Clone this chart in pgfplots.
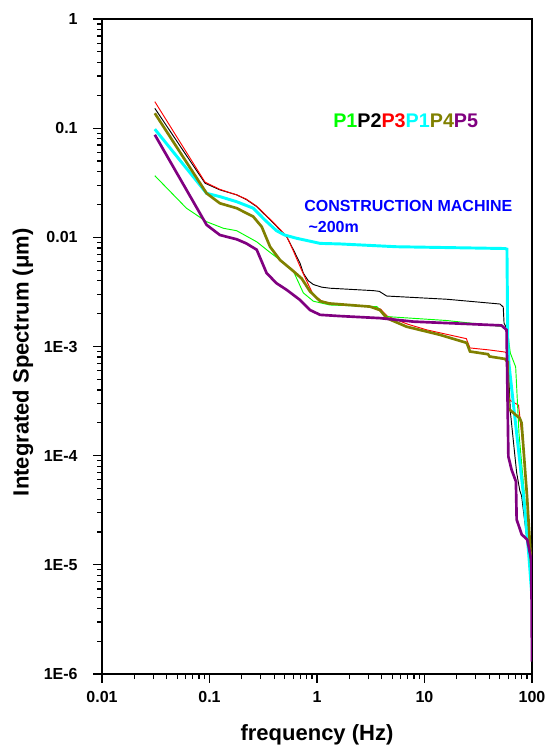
\documentclass[border=0pt]{standalone}
\usepackage{fontspec}
\setmainfont{Liberation Sans}
\usepackage{pgfplots}
\pgfplotsset{compat=1.18}
\definecolor{pgreen}{RGB}{0,255,0}
\definecolor{pcyan}{RGB}{0,255,255}
\definecolor{polive}{RGB}{128,128,0}
\definecolor{ppurple}{RGB}{128,0,128}
\definecolor{pblue}{RGB}{0,0,255}
\definecolor{pred}{RGB}{255,0,0}
\begin{document}
\begin{tikzpicture}
\useasboundingbox (-76.5pt,-54pt) rectangle (343.5pt,505.5pt);
\begin{axis}[
 at={(0,0)}, anchor=south west, scale only axis,
 width=322.5pt, height=491.25pt,
 xmode=log, ymode=log,
 xmin=0.01, xmax=100, ymin=1e-6, ymax=1,
 xtick={0.01,0.1,1,10,100}, xticklabels={0.01,0.1,1,10,100},
 ytick={1e-6,1e-5,1e-4,1e-3,0.01,0.1,1}, yticklabels={1E-6,1E-5,1E-4,1E-3,0.01,0.1,1},
 minor xtick={0.02,0.03,0.04,0.05,0.06,0.07,0.08,0.09,0.2,0.3,0.4,0.5,0.6,0.7,0.8,0.9,2,3,4,5,6,7,8,9,20,30,40,50,60,70,80,90},
 minor ytick={2e-6,3e-6,4e-6,5e-6,6e-6,7e-6,8e-6,9e-6,2e-5,3e-5,4e-5,5e-5,6e-5,7e-5,8e-5,9e-5,2e-4,3e-4,4e-4,5e-4,6e-4,7e-4,8e-4,9e-4,2e-3,3e-3,4e-3,5e-3,6e-3,7e-3,8e-3,9e-3,0.02,0.03,0.04,0.05,0.06,0.07,0.08,0.09,0.2,0.3,0.4,0.5,0.6,0.7,0.8,0.9},
 tick pos=left, tick align=outside,
 major tick length=6.75pt, minor tick length=3.75pt,
 every tick/.style={black, line width=0.9pt},
 axis line style={line width=1.1pt},
 ticklabel style={font=\fontsize{12}{14}\selectfont\bfseries},
 yticklabel style={xshift=-8pt},
 xticklabel style={yshift=-3pt},
 xlabel={frequency (Hz)}, ylabel={Integrated Spectrum (μm)},
 label style={font=\fontsize{16.5}{18}\selectfont\bfseries},
 xlabel style={at={(axis description cs:0.5,-0.093)}, anchor=center},
 ylabel style={at={(axis description cs:-0.184,0.476)}, anchor=center},
 clip=true,
]
% P2 black
\addplot[black, line width=0.7pt] coordinates {
(0.031,0.152) (0.091,0.0313) (0.125,0.0272) (0.179,0.0245) (0.22,0.0222) (0.275,0.0191) (0.393,0.0135) (0.523,0.0101) (0.603,0.0077) (0.695,0.0058) (0.746,0.0047) (0.83,0.0040) (0.925,0.0037) (1.1,0.00350) (1.32,0.00342) (3.34,0.00325) (3.8,0.0032) (4.45,0.0029) (16.1,0.00271) (50.4,0.00245) (54,0.0023) (55,0.00163) (58.2,0.00147) (60,0.0007) (63,0.00025) (68,1.2e-4) (72,7e-5) (77,4.8e-5) (80,4.3e-5) (88,2e-5) (95,1e-5) (100,4e-6)};
% P3 red
\addplot[pred, line width=0.7pt] coordinates {
(0.031,0.175) (0.091,0.032) (0.125,0.0275) (0.179,0.0245) (0.22,0.0224) (0.275,0.0193) (0.393,0.0137) (0.523,0.0102) (0.603,0.0075) (0.72,0.0050) (0.80,0.0040) (0.92,0.0030) (1.1,0.00262) (1.4,0.00245) (3.3,0.00232) (3.9,0.0022) (4.5,0.0019) (7,0.0016) (10.5,0.00142) (24.5,0.00118) (26.5,0.00097) (40,0.00093) (56,0.00089) (58.5,0.00086) (59.5,3.3e-4) (75,2.9e-4) (77,2.3e-4) (82,1.3e-4) (90,4.5e-5) (97,1e-5) (100,4e-6)};
% P1 green
\addplot[pgreen, line width=0.7pt] coordinates {
(0.031,0.0367) (0.061,0.0185) (0.094,0.0139) (0.135,0.0121) (0.179,0.0115) (0.275,0.0091) (0.34,0.0077) (0.453,0.0062) (0.603,0.0049) (0.746,0.0031) (0.925,0.0026) (1.32,0.0024) (3.6,0.00232) (4.45,0.00188) (16.1,0.00173) (54,0.00152) (59,0.0014) (62.9,8.7e-4) (70.5,6.5e-4) (75.7,1.6e-4) (91.5,1.95e-5) (100,4e-6)};
% P1 cyan
\addplot[pcyan, line width=2.2pt] coordinates {
(0.031,0.098) (0.094,0.0253) (0.125,0.0236) (0.179,0.0212) (0.255,0.0185) (0.328,0.0144) (0.42,0.0115) (0.5,0.0105) (0.647,0.0098) (1.07,0.0088) (1.64,0.0087) (5.5,0.0082) (56.1,0.0079) (58.5,0.0078) (59.5,0.0012) (61,7e-4) (72,1.6e-4) (83,4.5e-5) (93,1.3e-5) (100,5e-6)};
% P4 olive
\addplot[polive, line width=2pt] coordinates {
(0.031,0.137) (0.094,0.0253) (0.125,0.0205) (0.179,0.0185) (0.255,0.0155) (0.306,0.0125) (0.366,0.0082) (0.453,0.0062) (0.603,0.0049) (0.72,0.0042) (0.86,0.0032) (1.07,0.0026) (1.3,0.00248) (3.1,0.00232) (3.85,0.00216) (4.45,0.00182) (6.8,0.00152) (13.9,0.00128) (24.7,0.00108) (26.5,0.0009) (39,0.00085) (40.3,0.00081) (56,0.00077) (59.5,0.00072) (60.3,2.7e-4) (77,2.2e-4) (80,2.0e-4) (90,4.2e-5) (98.6,9.6e-6) (100,5e-6)};
% P5 purple
\addplot[ppurple, line width=2pt] coordinates {
(0.031,0.087) (0.094,0.013) (0.125,0.0105) (0.179,0.0096) (0.22,0.0088) (0.275,0.0077) (0.34,0.0047) (0.42,0.0038) (0.523,0.0033) (0.695,0.00267) (0.86,0.00216) (1.07,0.00195) (1.64,0.0019) (3.85,0.00182) (7.9,0.00169) (52,0.00156) (58,0.00142) (60.3,9.8e-5) (64.7,7.4e-5) (70.9,5.8e-5) (72,2.6e-5) (80.2,1.9e-5) (90.4,1.7e-5) (98.6,1.1e-5) (100,1.3e-6)};
\node[anchor=west, inner sep=0pt, font=\fontsize{14.8}{16}\selectfont\bfseries] at (axis cs:1.41,0.116) {\textcolor{pgreen}{P1}\textcolor{black}{P2}\textcolor{pred}{P3}\textcolor{pcyan}{P1}\textcolor{polive}{P4}\textcolor{ppurple}{P5}};
\node[anchor=west, inner sep=0pt, text=pblue, font=\fontsize{12}{14}\selectfont\bfseries] at (axis cs:0.757,0.0194) {CONSTRUCTION MACHINE};
\node[anchor=west, inner sep=0pt, text=pblue, font=\fontsize{12}{14}\selectfont\bfseries] at (axis cs:0.83,0.01237) {\textasciitilde200m};
\end{axis}
\end{tikzpicture}
\end{document}
